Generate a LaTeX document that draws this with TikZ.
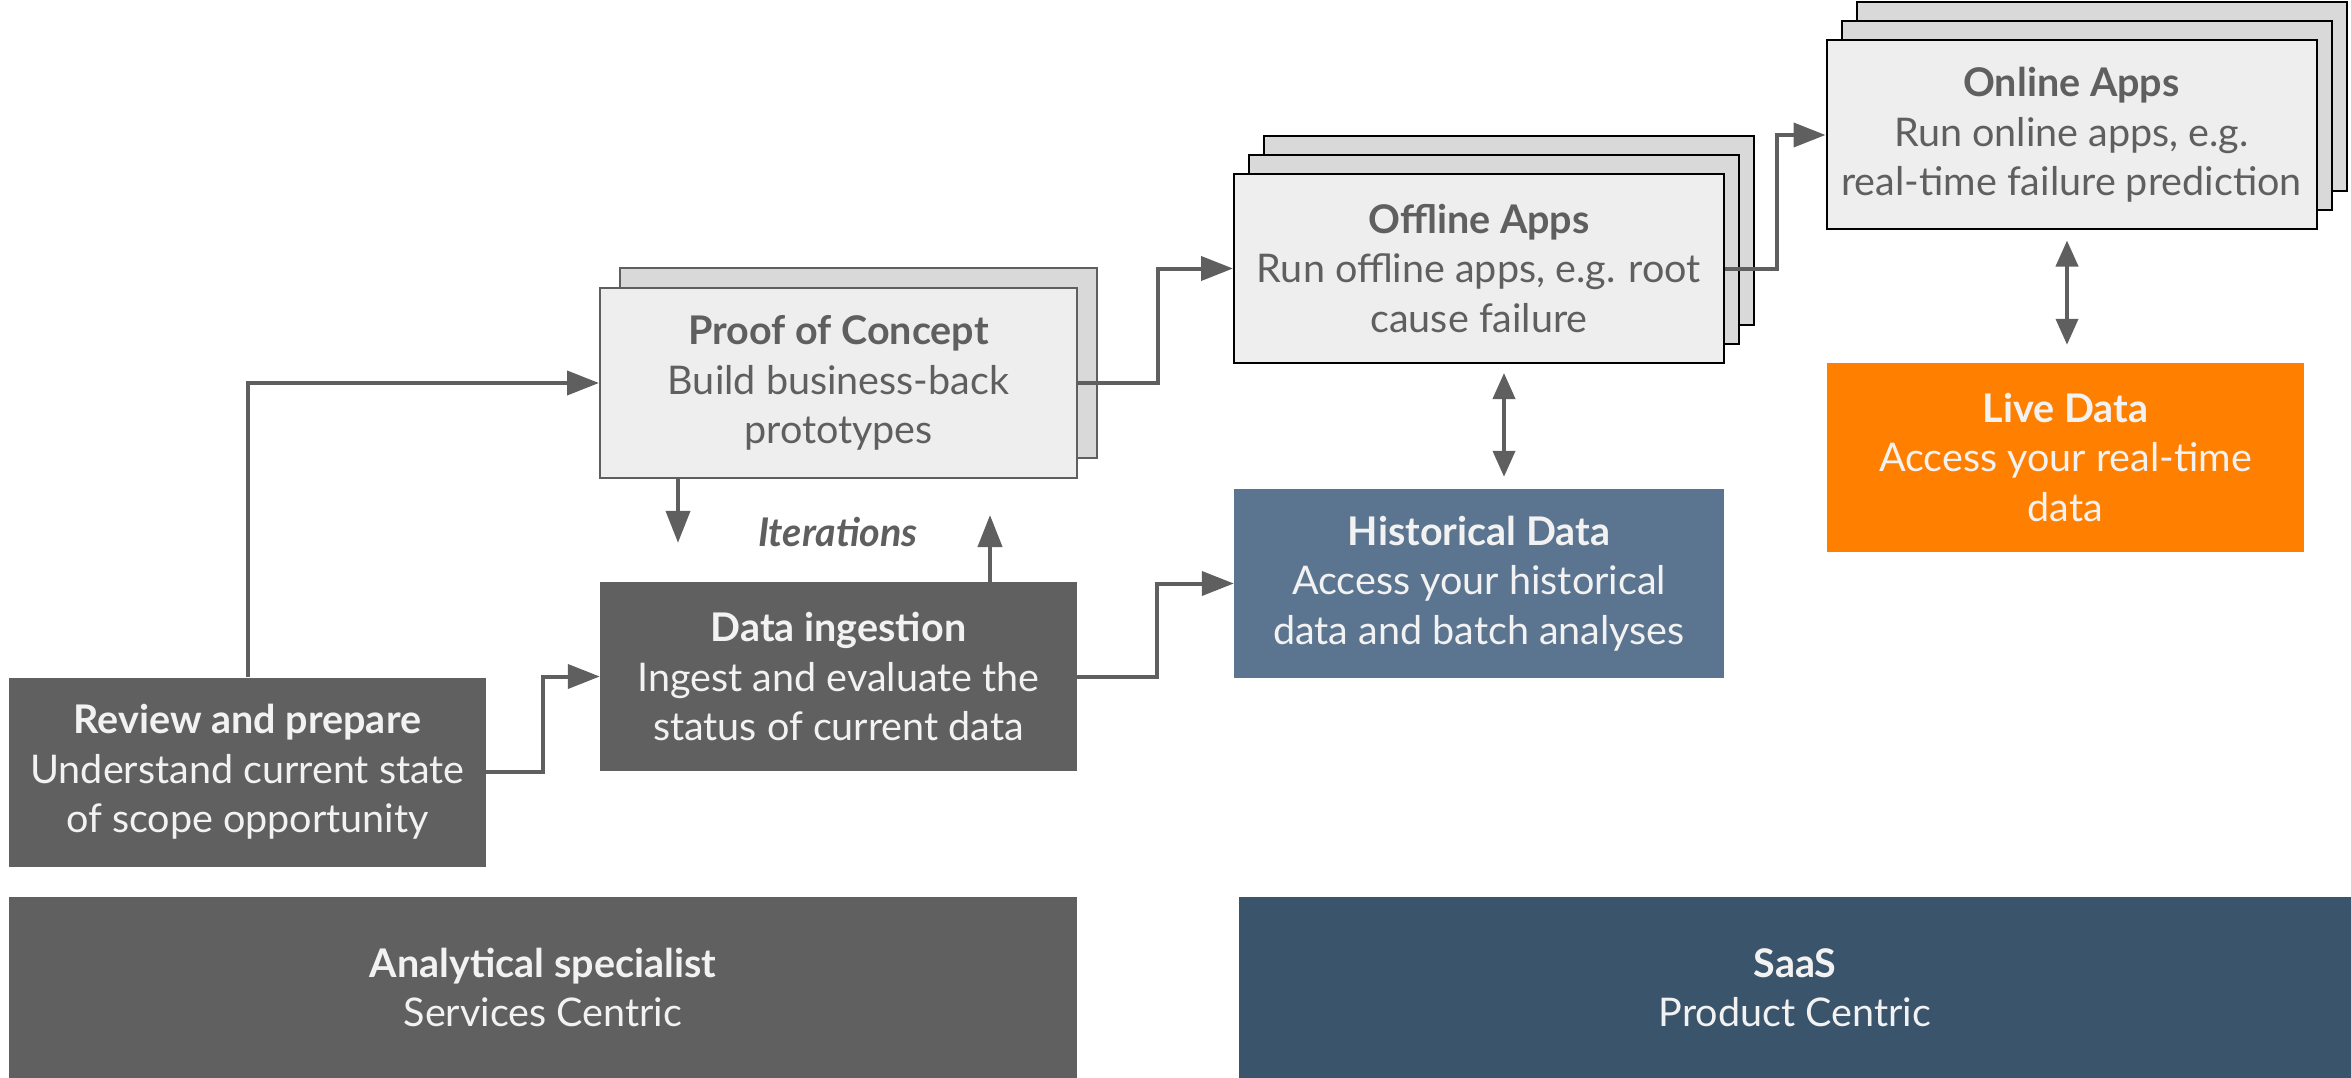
\documentclass[tikz,border=0pt]{standalone}
\usepackage{fontspec}
\setmainfont{Lato}
\usetikzlibrary{arrows.meta}
\definecolor{ink}{HTML}{5F5F5F}
\definecolor{darkbox}{HTML}{606060}
\definecolor{paper}{HTML}{EEEEEE}
\definecolor{shade}{HTML}{D9D9D9}
\definecolor{histblue}{HTML}{5B7590}
\definecolor{saasblue}{HTML}{3A546C}
\definecolor{liveorange}{HTML}{FF7F00}
\definecolor{lighttext}{HTML}{F2F2F2}
\tikzset{
  txt/.style={align=center, font=\fontsize{39.5}{49.5}\selectfont, inner sep=0pt},
  darkstep/.style={txt, fill=darkbox, text=lighttext, minimum width=477pt, minimum height=189pt},
  lightstep/.style={txt, fill=paper, draw=ink, line width=2pt, text=ink, minimum width=477pt, minimum height=190pt},
  appbox/.style={txt, fill=paper, draw=black, line width=2pt, text=ink, minimum width=490pt, minimum height=189pt},
  layerbox/.style={fill=shade, draw=black, line width=2pt, minimum width=490pt, minimum height=189pt, inner sep=0pt},
  pocback/.style={fill=shade, draw=ink, line width=2pt, minimum width=477pt, minimum height=190pt, inner sep=0pt},
  band/.style={txt, minimum height=181pt, text=lighttext},
  arr/.style={draw=ink, line width=4pt, -{Triangle[length=32pt,width=24pt]}},
  dbl/.style={draw=ink, line width=4pt, {Triangle[length=26pt,width=22pt]}-{Triangle[length=26pt,width=22pt]}}
}
\begin{document}
\begin{tikzpicture}[x=1pt,y=-1pt]
\useasboundingbox (0,0) rectangle (2351,1078);

% left column: services steps
\node[darkstep] (rev) at (247.5,772) {\textbf{Review and prepare}\\Understand current state\\of scope opportunity};
\node[darkstep] (ing) at (838.5,676.5) {\textbf{Data ingestion}\\Ingest and evaluate the\\status of current data};
\node[pocback] (pocb) at (858.5,363) {};
\node[lightstep] (poc) at (838.5,383) {\textbf{Proof of Concept}\\Build business-back\\prototypes};
\node[txt, text=ink] (iter) at (838,532) {\textbf{\itshape Iterations}};

% offline apps stack
\node[layerbox] (off3) at (1509,230.5) {};
\node[layerbox] (off2) at (1494,249.5) {};
\node[appbox] (off) at (1479,268.5) {\textbf{Offline Apps}\\Run offline apps, e.g. root\\cause failure};

% online apps stack
\node[layerbox] (onl3) at (2101.5,97) {};
\node[layerbox] (onl2) at (2086.5,116) {};
\node[appbox] (onl) at (2071.5,135) {\textbf{Online Apps}\\Run online apps, e.g.\\real-time failure prediction};

% data sources
\node[txt, fill=histblue, text=lighttext, minimum width=490pt, minimum height=189pt] (his) at (1479,583.5) {\textbf{Historical Data}\\Access your historical\\data and batch analyses};
\node[txt, fill=liveorange, text=lighttext, minimum width=477pt, minimum height=189pt] (live) at (2065.5,457.5) {\textbf{Live Data}\\Access your real-time\\data};

% bottom bands
\node[band, fill=darkbox, minimum width=1068pt] (ana) at (543,987.5) {\textbf{Analytical specialist}\\Services Centric};
\node[band, fill=saasblue, minimum width=1112pt] (saas) at (1795,987.5) {\textbf{SaaS}\\Product Centric};

% connectors
\draw[arr] (rev.north) |- (poc.west);
\draw[arr] (rev.east) -- ++(57,0) |- (ing.west);
\draw[arr] ([xshift=-160.5pt]poc.south) -- ([xshift=-160.5pt,yshift=39pt]ing.north);
\draw[arr] ([xshift=151.5pt]ing.north) -- ([xshift=151.5pt,yshift=-36pt]poc.south);
\draw[arr] (poc.east) -- ++(80,0) |- (off.west);
\draw[arr] (ing.east) -- ++(80,0) |- (his.west);
\draw[arr] (off.east) -- ++(52,0) |- (onl.west);
\draw[dbl] ([xshift=25pt,yshift=-9pt]off.south) -- ([xshift=25pt,yshift=12pt]his.north);
\draw[dbl] ([xshift=-4.5pt,yshift=-10pt]onl.south) -- ([xshift=-4.5pt,yshift=18pt]onl.south |- live.north);
\end{tikzpicture}
\end{document}
